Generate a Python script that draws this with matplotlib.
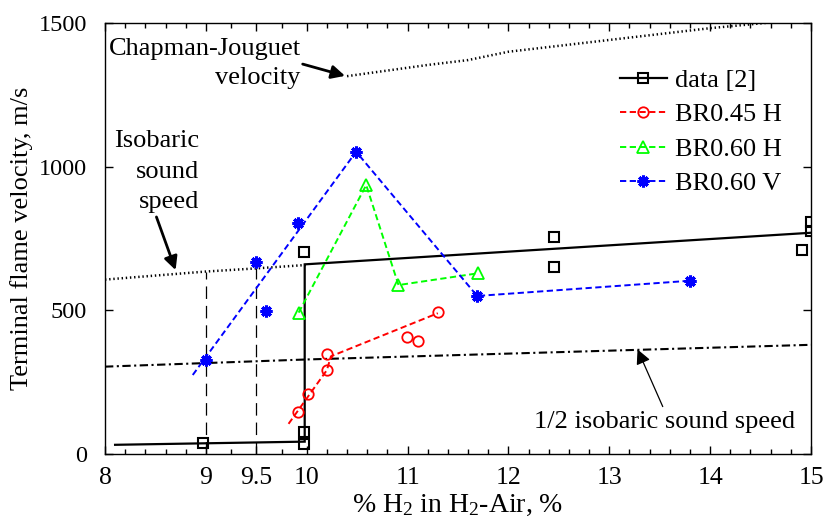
import matplotlib
matplotlib.use('Agg')
import numpy as np
import matplotlib.pyplot as plt
from matplotlib.lines import Line2D

plt.rcParams['font.family'] = ['Liberation Serif', 'DejaVu Serif']
plt.rcParams['mathtext.fontset'] = 'custom'
plt.rcParams['mathtext.rm'] = 'Liberation Serif'
plt.rcParams['mathtext.it'] = 'Liberation Serif:italic'
plt.rcParams['lines.scale_dashes'] = False

# ---------------- data ----------------
data2_x = [8.97, 9.97, 9.97, 9.97, 12.45, 12.45, 14.91, 15.0, 15.0]
data2_y = [38, 35, 78, 703, 754, 652, 710, 808, 777]
data2_line_x = [8.1, 9.98, 9.98, 15.0]
data2_line_y = [32, 43, 660, 770]

br045h_x = [9.91, 10.01, 10.2, 10.2, 10.99, 11.1, 11.3]
br045h_y = [147, 209, 292, 348, 406, 394, 495]
br045h_line_x = [9.82, 10.2, 10.24, 11.3]
br045h_line_y = [105, 292, 340, 490]

br060h_x = [9.92, 10.59, 10.91, 11.70]
br060h_y = [492, 936, 588, 629]

br060v_x = [9.0, 9.5, 9.6, 9.91, 10.49, 11.69, 13.8]
br060v_y = [327, 667, 498, 803, 1052, 550, 603]
br060v_line_x = [8.87, 10.49, 11.69, 13.8]
br060v_line_y = [275, 1052, 550, 603]

cj_x = [10.4, 11.2, 11.6, 12.0, 13.0, 14.0, 14.6]
cj_y = [1315, 1354, 1371, 1400, 1441, 1482, 1502]
iso_x = [8.0, 9.0, 9.5, 10.0]
iso_y = [607, 635, 646, 658]
half_x = [8.0, 10.0, 15.0]
half_y = [304, 329, 380]
vline_x = [9.0, 9.5]
vline_top = [635, 646]

xticks = [8, 9, 9.5, 10, 11, 12, 13, 14, 15]
xtick_labels = ['8', '9', '9.5', '10', '11', '12', '13', '14', '15']
yticks = [0, 500, 1000, 1500]
ytick_labels = ['0', '500', '1000', '1500']

# ---------------- figure ----------------
fig = plt.figure(figsize=(8.26, 5.21), dpi=100)
ax = fig.add_axes([105/826, 67/521, 706/826, 431/521])

FS = 19
TFS = 18.5

# reference curves
ax.plot(cj_x, cj_y, color='k', lw=1.8, linestyle=(0, (1.0, 2.0)))
ax.plot(iso_x, iso_y, color='k', lw=1.8, linestyle=(0, (1.0, 2.0)))
ax.plot(half_x, half_y, color='k', lw=1.5, linestyle=(0, (6, 2.5, 1.5, 2.5)))
ax.vlines(vline_x, 0, vline_top, colors='k', lw=0.9, linestyles=[(0, (9, 5))])

# data [2]
ax.plot(data2_line_x, data2_line_y, color='k', lw=1.6, solid_joinstyle='miter')
ax.plot(data2_x, data2_y, linestyle='none', marker='s', ms=7.5, mfc='none',
        mec='k', mew=1.5)

# BR0.45 H
ax.plot(br045h_line_x, br045h_line_y, color='r', lw=1.4, linestyle=(0, (4.5, 2.5)))
ax.plot(br045h_x, br045h_y, linestyle='none', marker='o', ms=7.5, mfc='none',
        mec='r', mew=1.3)

# BR0.60 H
ax.plot(br060h_x, br060h_y, color=(0, 1, 0), lw=1.4, linestyle=(0, (4.5, 2.5)))
ax.plot(br060h_x, br060h_y, linestyle='none', marker='^', ms=8.5, mfc='none',
        mec=(0, 1, 0), mew=1.3)

# BR0.60 V
ax.plot(br060v_line_x, br060v_line_y, color='b', lw=1.4, linestyle=(0, (4.5, 2.5)))
ax.plot(br060v_x, br060v_y, linestyle='none', marker=(8, 2, 0), ms=8.5,
        mec='b', mew=2.2)

# axes
ax.set_xlim(8, 15)
ax.set_ylim(0, 1500)
ax.set_xticks(xticks)
ax.set_xticklabels(xtick_labels)
minor = [v for v in np.round(np.arange(8.2, 15.0, 0.2), 2) if not (9.0 < v < 10.0)
         and v not in xticks] + [9.25, 9.75]
ax.set_xticks(minor, minor=True)
ax.set_yticks(yticks)
ax.set_yticklabels(ytick_labels)
ax.tick_params(which='both', direction='in', top=True, right=True,
               labelsize=TFS, width=1.0)
ax.tick_params(which='major', length=6)
ax.tick_params(axis='x', which='major', pad=9)
ax.tick_params(axis='y', which='major', pad=13, labelsize=17.5)
ax.tick_params(which='minor', length=3.5)
for s in ax.spines.values():
    s.set_linewidth(1.0)

ax.set_xlabel(r'% H$_2$ in H$_2$-Air, %', fontsize=20, labelpad=3)
ax.set_ylabel('Terminal flame velocity, m/s', fontsize=19, labelpad=4)

# annotations
ax.text(9.94, 1359, 'Chapman-Jouguet\nvelocity', ha='right', va='center',
        fontsize=FS, multialignment='right', linespacing=1.45)
ax.annotate('', xy=(10.38, 1316), xytext=(9.96, 1357),
            arrowprops=dict(arrowstyle='-|>', color='k', lw=2.0,
                            mutation_scale=20, shrinkA=0, shrinkB=0))
ax.text(8.93, 982, 'Isobaric\nsound\nspeed', ha='right', va='center',
        fontsize=FS, multialignment='right', linespacing=1.5)
ax.annotate('', xy=(8.70, 640), xytext=(8.51, 825),
            arrowprops=dict(arrowstyle='-|>', color='k', lw=2.0,
                            mutation_scale=20, shrinkA=0, shrinkB=0))
ax.text(13.55, 111, '1/2 isobaric sound speed', ha='center', va='center',
        fontsize=FS)
ax.annotate('', xy=(13.28, 364), xytext=(13.53, 165),
            arrowprops=dict(arrowstyle='-|>', color='k', lw=0.9,
                            mutation_scale=22, shrinkA=0, shrinkB=0))

# legend
handles = [
    Line2D([], [], color='k', lw=1.6, marker='s', ms=7.5, mfc='none', mec='k', mew=1.5),
    Line2D([], [], color='r', lw=1.4, linestyle=(0, (4.5, 2.5)), marker='o', ms=7.5,
           mfc='none', mec='r', mew=1.3),
    Line2D([], [], color=(0, 1, 0), lw=1.4, linestyle=(0, (4.5, 2.5)), marker='^',
           ms=8.5, mfc='none', mec=(0, 1, 0), mew=1.3),
    Line2D([], [], color='b', lw=1.4, linestyle=(0, (4.5, 2.5)), marker=(8, 2, 0),
           ms=8.5, mec='b', mew=2.2),
]
labels = ['data [2]', 'BR0.45 H', 'BR0.60 H', 'BR0.60 V']
ax.legend(handles, labels, loc='upper left', bbox_to_anchor=(0.729, 0.894),
          frameon=False, fontsize=FS, handlelength=1.8, handletextpad=0.3,
          labelspacing=0.41, borderpad=0, borderaxespad=0)

fig.savefig('out.png', dpi=100)
